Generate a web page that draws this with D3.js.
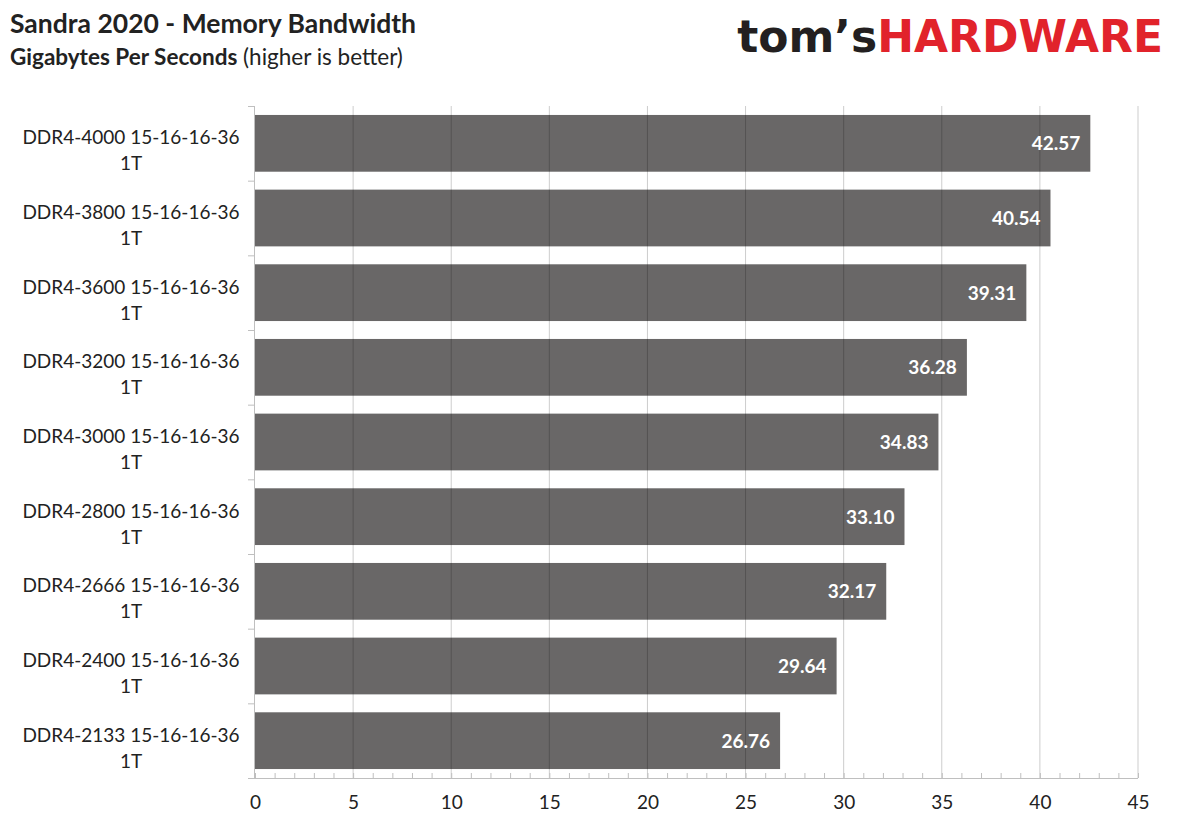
<!DOCTYPE html>
<html lang="en">
<head>
<meta charset="UTF-8">
<title>Sandra 2020 - Memory Bandwidth</title>
<script src="https://d3js.org/d3.v7.min.js"></script>
<style>
body{margin:0;background:#fff;}
text{font-family:Lato,"Open Sans",sans-serif;}
</style>
</head>
<body>
<script>
var categories = ["DDR4-4000 15-16-16-36 1T","DDR4-3800 15-16-16-36 1T","DDR4-3600 15-16-16-36 1T",
  "DDR4-3200 15-16-16-36 1T","DDR4-3000 15-16-16-36 1T","DDR4-2800 15-16-16-36 1T",
  "DDR4-2666 15-16-16-36 1T","DDR4-2400 15-16-16-36 1T","DDR4-2133 15-16-16-36 1T"];
var values = [42.57,40.54,39.31,36.28,34.83,33.10,32.17,29.64,26.76];
var ticks = [0,5,10,15,20,25,30,35,40,45];

var width = 1179, height = 832;
var pLeft = 255, pRight = 1138, pTop = 106, pBottom = 778;

var svg = d3.select("body").append("svg").attr("width", width).attr("height", height);

var x = d3.scaleLinear().domain([0,45]).range([pLeft,pRight]);
var y = d3.scaleBand().domain(categories).range([pTop,pBottom]).paddingInner(0.24).paddingOuter(0.12);

// titles
svg.append("text").attr("x",10).attr("y",33).attr("font-size",26.5).attr("font-weight","bold").attr("fill","#222")
  .text("Sandra 2020 - Memory Bandwidth");
var sub = svg.append("text").attr("x",10).attr("y",65).attr("font-size",22.5).attr("fill","#222");
sub.append("tspan").attr("font-weight","bold").text("Gigabytes Per Seconds");
sub.append("tspan").text(" (higher is better)");

// logo
var logo = svg.append("text").attr("x",1163).attr("y",52).attr("text-anchor","end")
  .style("font-size","44px").style("font-weight","bold").style("font-family","'DejaVu Sans',sans-serif");
logo.append("tspan").attr("fill","#231f20").text("tom’s");
logo.append("tspan").attr("fill","#e1232b").text("HARDWARE");

// bars
svg.append("g").selectAll("rect").data(values).enter().append("rect")
  .attr("x", x(0)).attr("y", function(d,i){return y(categories[i]);})
  .attr("width", function(d){return x(d)-x(0);}).attr("height", y.bandwidth())
  .attr("fill","#696767");

// gridlines over bars
svg.append("g").selectAll("line").data(ticks.slice(1)).enter().append("line")
  .attr("x1", function(d){return x(d);}).attr("x2", function(d){return x(d);})
  .attr("y1", pTop).attr("y2", pBottom).attr("stroke","rgba(0,0,0,0.2)").attr("stroke-width",1);

// value labels
svg.append("g").selectAll("text").data(values).enter().append("text")
  .attr("x", function(d){return x(d)-10;}).attr("y", function(d,i){return y(categories[i])+y.bandwidth()/2+7;})
  .attr("text-anchor","end").attr("font-size",19).attr("font-weight","bold").attr("fill","#fff")
  .text(function(d){return d.toFixed(2);});

// x axis
var xAxis = svg.append("g").attr("transform","translate(0,"+pBottom+")")
  .call(d3.axisBottom(x).tickValues(ticks).tickSize(0).tickPadding(18).tickFormat(d3.format("d")));
xAxis.select(".domain").remove();
xAxis.selectAll("text").attr("font-size",19).attr("fill","#222").attr("font-family","Lato,sans-serif");
svg.append("line").attr("x1",248).attr("x2",pRight).attr("y1",pBottom+0.5).attr("y2",pBottom+0.5).attr("stroke","#bfbfbf");
svg.append("g").selectAll("line").data(d3.range(0,46)).enter().append("line")
  .attr("x1",function(d){return x(d)+0.5;}).attr("x2",function(d){return x(d)+0.5;})
  .attr("y1",pBottom).attr("y2",pBottom-5).attr("stroke","#bfbfbf");

// y axis
svg.append("line").attr("x1",pLeft-0.5).attr("x2",pLeft-0.5).attr("y1",pTop).attr("y2",pBottom).attr("stroke","#bfbfbf");
svg.append("g").selectAll("line").data(d3.range(categories.length+1)).enter().append("line")
  .attr("x1",pLeft-7).attr("x2",pLeft).attr("y1",function(i){return pTop+i*(pBottom-pTop)/categories.length+0.5;})
  .attr("y2",function(i){return pTop+i*(pBottom-pTop)/categories.length+0.5;}).attr("stroke","#bfbfbf");

var lab = svg.append("g").selectAll("text").data(categories).enter().append("text")
  .attr("text-anchor","middle").attr("font-size",19).attr("fill","#222")
  .attr("x",131).attr("y",function(d){return y(d)+y.bandwidth()/2+1;});
lab.append("tspan").text(function(d){return d.slice(0,d.lastIndexOf(" "));});
lab.append("tspan").attr("x",131).attr("dy",26).text(function(d){return d.slice(d.lastIndexOf(" ")+1);});
</script>
</body>
</html>
